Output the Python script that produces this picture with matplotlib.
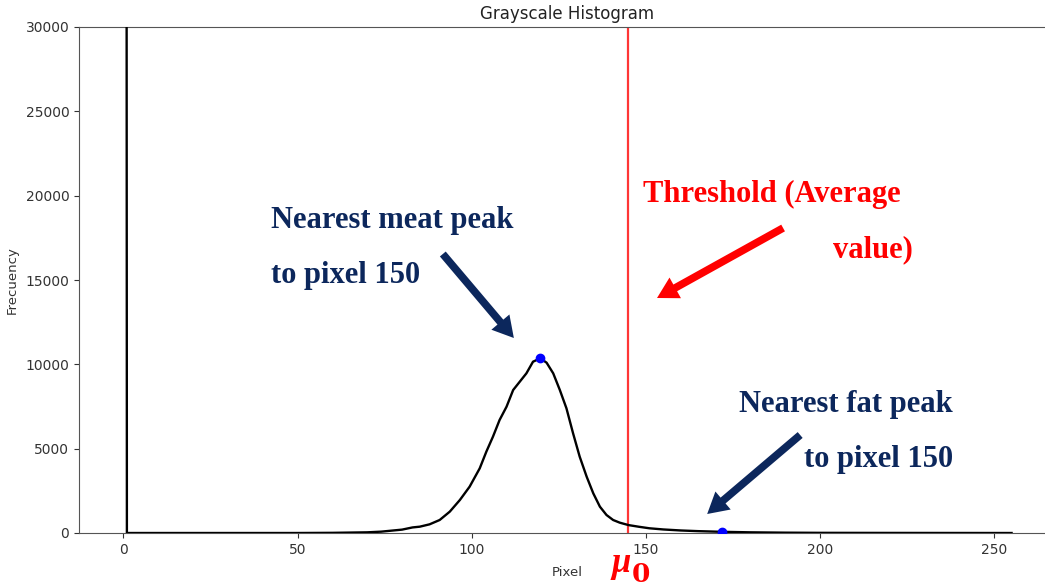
import matplotlib
matplotlib.use("Agg")
import matplotlib.pyplot as plt

# ---- data ----
pixel_levels = [0, 1, 10, 30, 50, 60, 70, 74, 80, 83, 85.1, 87.9, 90.8, 93.7, 96.6, 99.4,
                102.3, 104.2, 106.1, 108.0, 110.0, 111.9, 113.8, 115.7, 117.6, 119.7,
                121.5, 123.4, 125.3, 127.2, 129.1, 131.0, 133.0, 134.9, 136.8, 138.7,
                140.6, 142.5, 145, 148, 151, 155, 160, 165, 172, 180, 190, 200, 220,
                240, 255]
frequency = [400000, 0, 0, 0, 0, 10, 40, 80, 200, 330, 375, 514, 771, 1265, 1957, 2747,
             3834, 4822, 5712, 6700, 7489, 8478, 8972, 9466, 10157, 10355,
             10097, 9466, 8478, 7391, 5910, 4526, 3340, 2352, 1561, 1067,
             771, 613, 470, 370, 280, 210, 150, 110, 70, 40, 20, 10, 5,
             2, 0]
peak_pixels = [119.7, 172]
peak_values = [10355, 70]
threshold = 145
x_ticks = [0, 50, 100, 150, 200, 250]
y_ticks = [0, 5000, 10000, 15000, 20000, 25000, 30000]

NAVY = "#0c275c"
RED = "#ff0000"

fig = plt.figure(figsize=(10.45, 5.87), dpi=100)
ax = fig.add_axes([79 / 1045, 54 / 587, 977 / 1045, 506 / 587])

ax.plot(pixel_levels, frequency, color="black", lw=1.7, zorder=3)
ax.plot(peak_pixels, peak_values, "o", color="blue", ms=6, zorder=4)
ax.axvline(threshold, color="#ff2020", lw=1.6, alpha=0.9, zorder=2)

ax.set_xlim(-12.75, 267.75)
ax.set_ylim(0, 30000)
ax.set_xticks(x_ticks)
ax.set_yticks(y_ticks)
ax.tick_params(labelsize=10, colors="#333333")
for s in ax.spines.values():
    s.set_color("#555555")
ax.set_title("Grayscale Histogram", fontsize=12, color="#222222", pad=6)
ax.set_xlabel("Pixel", fontsize=9.5, color="#333333", labelpad=7)
ax.set_ylabel("Frecuency", fontsize=9.5, color="#333333", labelpad=5)

serif = ["Liberation Serif", "DejaVu Serif"]
tkw = dict(family=serif, fontweight="bold", fontsize=22, va="baseline")
ax.text(42.5, 18083, "Nearest meat peak", color=NAVY, ha="left", **tkw)
ax.text(42.5, 14822, "to pixel 150", color=NAVY, ha="left", **tkw)
ax.text(149.1, 19625, "Threshold (Average", color=RED, ha="left", **tkw)
ax.text(226.8, 16380, "value)", color=RED, ha="right", **tkw)
ax.text(238.1, 7192, "Nearest fat peak", color=NAVY, ha="right", **tkw)
ax.text(238.1, 3895, "to pixel 150", color=NAVY, ha="right", **tkw)

# mu_0 label below the threshold line
ax.text(140.0, -2312, "μ", color=RED, family=serif, fontweight="bold",
        fontstyle="italic", fontsize=25, ha="left", va="baseline", clip_on=False)
ax.text(146.0, -2905, "0", color=RED, family=["DejaVu Serif"], fontweight="bold",
        fontsize=19, ha="left", va="baseline", clip_on=False)

akw = dict(arrowstyle="simple,head_width=1.7,head_length=1.5,tail_width=0.55",
           mutation_scale=10, shrinkA=0, shrinkB=0, lw=0)
ax.annotate("", xy=(112.1, 11561), xytext=(91.7, 16541),
            arrowprops=dict(color=NAVY, **akw))
ax.annotate("", xy=(153.2, 13933), xytext=(189.4, 18083),
            arrowprops=dict(color=RED, **akw))
ax.annotate("", xy=(167.6, 1126), xytext=(194.3, 5810),
            arrowprops=dict(color=NAVY, **akw))

fig.savefig("out.png", dpi=100)
